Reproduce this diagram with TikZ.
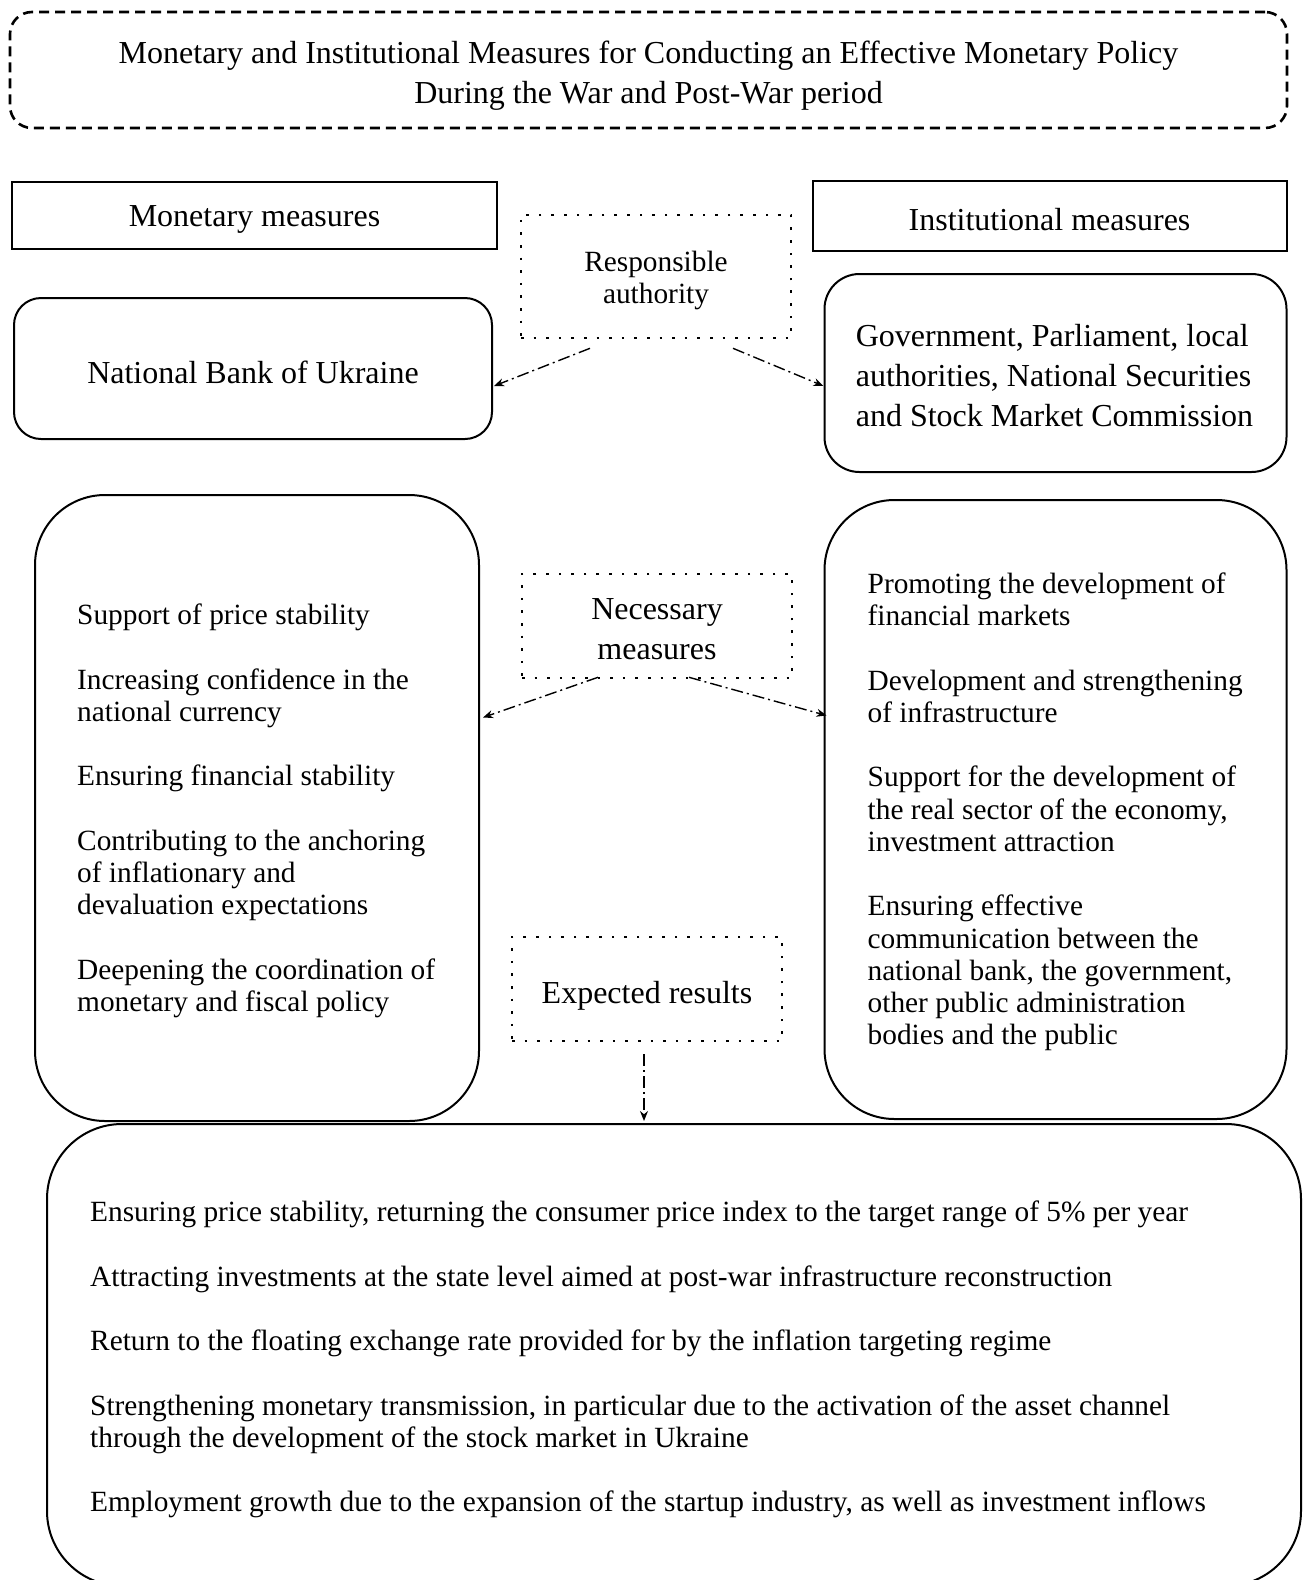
\documentclass[tikz,border=0pt]{standalone}
\usepackage{fontspec}
\setmainfont{Liberation Serif}
\usetikzlibrary{arrows.meta,calc}
\begin{document}
\begin{tikzpicture}[x=1pt,y=-1pt,
  solidbox/.style={draw, line width=2pt, inner sep=0pt},
  dotbox/.style={draw, line width=2.6pt, dash pattern=on 2.6pt off 10pt, inner sep=0pt},
  big/.style={inner sep=0pt, font=\fontsize{32}{40}\selectfont},
  small/.style={inner sep=0pt, font=\fontsize{29.35}{32.25}\selectfont},
  conn/.style={line width=1.4pt, dash pattern=on 12pt off 4pt on 2pt off 4pt, -{Stealth[length=10pt,width=8pt]}}
]
\useasboundingbox (0,0) rectangle (1309,1580);
% title
\node[draw, line width=2.6pt, dash pattern=on 10pt off 6pt, rounded corners=22pt,
  minimum width=1277pt, minimum height=116pt, inner sep=0pt] (title) at (648.5,70) {};
\node[big, align=center] (titletext) at ($(title)+(0,5.5)$) {Monetary and Institutional Measures for Conducting an Effective Monetary Policy\\During the War and Post-War period};
% headers
\node[solidbox, minimum width=485pt, minimum height=67pt] (mon) at (254.5,215) {};
\node[big] (montext) at ($(mon)+(0,4)$) {Monetary measures};
\node[solidbox, minimum width=474pt, minimum height=70pt] (inst) at (1049.5,216) {};
\node[big] (insttext) at ($(inst)+(0,3.5)$) {Institutional measures};
% responsible authority
\node[dotbox, minimum width=270pt, minimum height=123pt] (ra) at (656,276.5) {};
\node[small, align=center] (ratext) at ($(ra)+(0,4)$) {Responsible\\authority};
\node[solidbox, rounded corners=27pt, minimum width=478pt, minimum height=141pt] (nbu) at (253,368.5) {};
\node[big] (nbutext) at ($(nbu)+(0,3.5)$) {National Bank of Ukraine};
\node[solidbox, rounded corners=35pt, minimum width=462pt, minimum height=198pt] (gov) at (1055.5,373) {};
\node[big, align=left] (govtext) at ($(gov)+(-1,2.5)$) {Government, Parliament, local\\authorities, National Securities\\and Stock Market Commission};
% necessary measures
\node[dotbox, minimum width=270pt, minimum height=104pt] (nm) at (657,626) {};
\node[big, align=center] (nmtext) at ($(nm)+(0,3.5)$) {Necessary\\measures};
\node[solidbox, rounded corners=70pt, minimum width=444pt, minimum height=626pt] (left) at (257,808) {};
\node[small, align=left, anchor=west] (lefttext) at (77,811)
 {Support of price stability\\[32.25pt]
  Increasing confidence in the\\national currency\\[32.25pt]
  Ensuring financial stability\\[32.25pt]
  Contributing to the anchoring\\of inflationary and\\devaluation expectations\\[32.25pt]
  Deepening the coordination of\\monetary and fiscal policy};
\node[solidbox, rounded corners=70pt, minimum width=462pt, minimum height=619pt] (right) at (1055.5,809.5) {};
\node[small, align=left, anchor=west] (righttext) at (867.5,812)
 {Promoting the development of\\financial markets\\[32.25pt]
  Development and strengthening\\of infrastructure\\[32.25pt]
  Support for the development of\\the real sector of the economy,\\investment attraction\\[32.25pt]
  Ensuring effective\\communication between the\\national bank, the government,\\other public administration\\bodies and the public};
% expected results
\node[dotbox, minimum width=270pt, minimum height=104pt] (er) at (647,989) {};
\node[big] (ertext) at ($(er)+(0,6.5)$) {Expected results};
\node[solidbox, rounded corners=75pt, minimum width=1254pt, minimum height=462pt] (bot) at (674,1355) {};
\node[small, align=left, anchor=west] (bottext) at (90,1359.5)
 {Ensuring price stability, returning the consumer price index to the target range of 5\% per year\\[32.25pt]
  Attracting investments at the state level aimed at post-war infrastructure reconstruction\\[32.25pt]
  Return to the floating exchange rate provided for by the inflation targeting regime\\[32.25pt]
  Strengthening monetary transmission, in particular due to the activation of the asset channel\\through the development of the stock market in Ukraine\\[32.25pt]
  Employment growth due to the expansion of the startup industry, as well as investment inflows};
% connectors
\draw[conn] ($(ra.south)+(-66,9)$) -- ($(nbu.east)+(1,17.5)$);
\draw[conn] ($(ra.south)+(77,9)$) -- ($(gov.west)+(0,13)$);
\draw[conn] ($(nm.south)+(-59,-2)$) -- ($(left.east)+(3,-90.5)$);
\draw[conn] ($(nm.south)+(32,-2)$) -- ($(right.west)+(3,-94)$);
\draw[conn] ($(er.south)+(-3,12)$) -- ($(bot.north)+(-30,-2)$);
\end{tikzpicture}
\end{document}
